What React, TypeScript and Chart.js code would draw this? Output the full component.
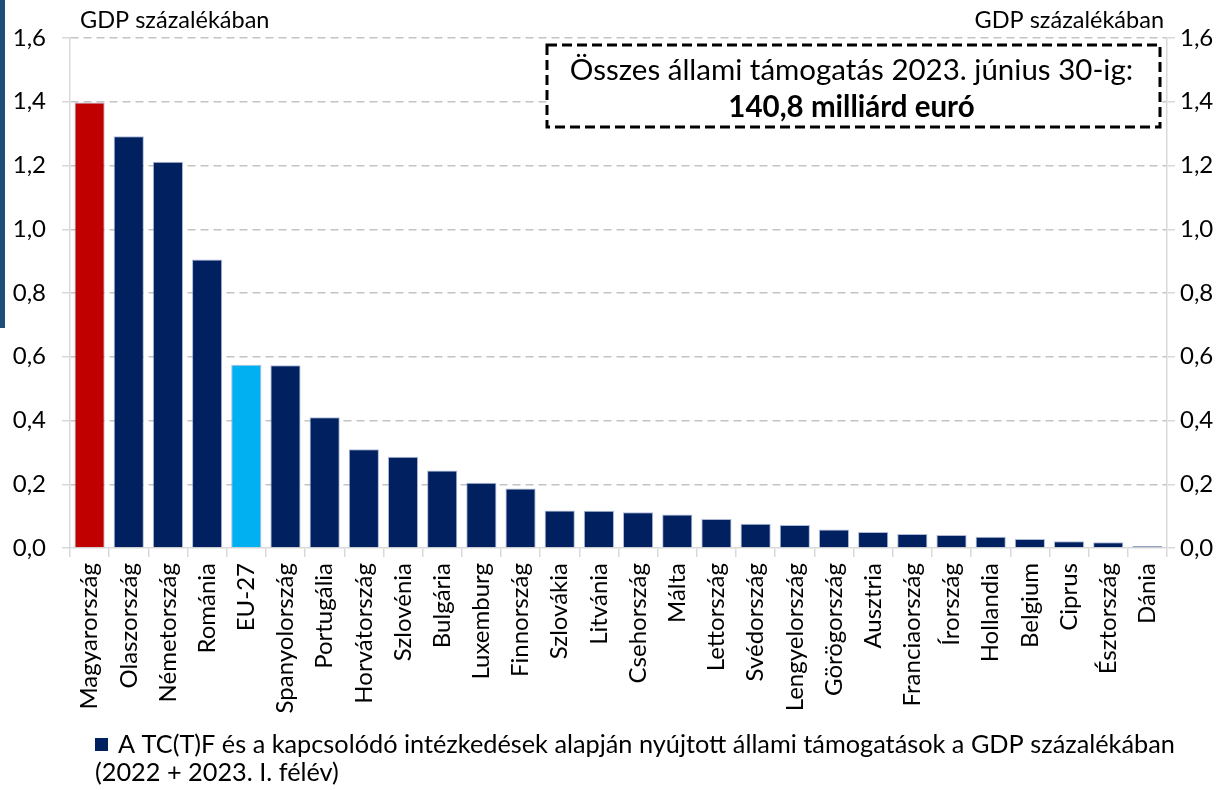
import React, { useEffect, useRef } from "react";
import { Chart, registerables } from "chart.js";

Chart.register(...registerables);

const categories = [
  "Magyarország", "Olaszország", "Németország", "Románia", "EU-27", "Spanyolország",
  "Portugália", "Horvátország", "Szlovénia", "Bulgária", "Luxemburg", "Finnország",
  "Szlovákia", "Litvánia", "Csehország", "Málta", "Lettország", "Svédország",
  "Lengyelország", "Görögország", "Ausztria", "Franciaország", "Írország", "Hollandia",
  "Belgium", "Ciprus", "Észtország", "Dánia",
];
const values = [
  1.398, 1.292, 1.212, 0.905, 0.575, 0.573,
  0.41, 0.31, 0.286, 0.243, 0.205, 0.187,
  0.118, 0.117, 0.112, 0.105, 0.091, 0.076,
  0.072, 0.058, 0.05, 0.044, 0.041, 0.035,
  0.028, 0.021, 0.018, 0.006,
];
const yMin = 0;
const yMax = 1.6;
const yStep = 0.2;
const axisUnit = "GDP százalékában";
const boxLine1 = "Összes állami támogatás 2023. június 30-ig:";
const boxLine2 = "140,8 milliárd euró";
const legendLines = [
  "A TC(T)F és a kapcsolódó intézkedések alapján nyújtott állami támogatások a GDP százalékában",
  "(2022 + 2023. I. félév)",
];
const highlightRed = "Magyarország";
const highlightLight = "EU-27";

const NAVY = "#002060";
const RED = "#C00000";
const LIGHT = "#00B0F0";
const FONT = "Lato, 'Open Sans', sans-serif";
const GRID = "#c4c4c4";
const AXIS = "#d9d9d9";

const fmt = (v: number) => v.toFixed(1).replace(".", ",");

const overlayPlugin = {
  id: "overlay",
  beforeDraw(chart: any) {
    const ctx = chart.ctx;
    ctx.save();
    ctx.fillStyle = "#1F4E79";
    ctx.fillRect(0, 0, 5, 328);
    ctx.restore();
  },
  afterDraw(chart: any) {
    const ctx = chart.ctx as CanvasRenderingContext2D;
    ctx.save();
    ctx.fillStyle = "#000";
    ctx.textBaseline = "alphabetic";
    ctx.font = `23.5px ${FONT}`;
    ctx.textAlign = "left";
    ctx.fillText(axisUnit, 80, 28);
    ctx.textAlign = "right";
    ctx.fillText(axisUnit, 1164, 28);

    // annotation box
    const bx = 547, by = 45, bw = 613, bh = 82;
    ctx.fillStyle = "#fff";
    ctx.fillRect(bx, by, bw, bh);
    ctx.strokeStyle = "#000";
    ctx.lineWidth = 3;
    ctx.setLineDash([10, 5]);
    ctx.strokeRect(bx, by, bw, bh);
    ctx.setLineDash([]);
    ctx.fillStyle = "#000";
    ctx.textAlign = "center";
    ctx.font = `29.5px ${FONT}`;
    ctx.fillText(boxLine1, bx + bw / 2 - 2, 80);
    ctx.font = `bold 29.5px ${FONT}`;
    ctx.fillText(boxLine2, bx + bw / 2 - 2, 117);

    // legend
    ctx.fillStyle = NAVY;
    ctx.fillRect(95, 738, 13, 13);
    ctx.fillStyle = "#000";
    ctx.textAlign = "left";
    ctx.font = `25.3px ${FONT}`;
    ctx.fillText(legendLines[0], 118, 753);
    ctx.fillText(legendLines[1], 95, 781);
    ctx.restore();
  },
};

export default function App() {
  const ref = useRef<HTMLCanvasElement | null>(null);
  useEffect(() => {
    if (!ref.current) return;
    const colors = categories.map((c) =>
      c === highlightRed ? RED : c === highlightLight ? LIGHT : NAVY
    );
    const chart = new Chart(ref.current, {
      type: "bar",
      data: {
        labels: categories,
        datasets: [
          {
            label: legendLines[0],
            data: values,
            backgroundColor: colors,
            borderColor: "rgba(120,140,190,0.6)",
            borderWidth: 1,
            barPercentage: 0.77,
            categoryPercentage: 1,
          },
        ],
      },
      options: {
        responsive: false,
        animation: false,
        layout: { padding: { top: 38, left: 0, right: 0, bottom: 0 } },
        plugins: {
          legend: { display: false },
          tooltip: { enabled: false },
          title: { display: false },
        },
        scales: {
          x: {
            grid: {
              display: true,
              drawOnChartArea: false,
              offset: true,
              tickLength: 9,
              color: AXIS,
              lineWidth: 1.5,
            },
            border: { color: AXIS, width: 1.5 },
            ticks: {
              minRotation: 90,
              maxRotation: 90,
              autoSkip: false,
              padding: 6,
              color: "#000",
              font: { family: FONT, size: 24 },
            },
            afterFit: (s: any) => {
              s.height = 242;
            },
          },
          y: {
            position: "left",
            min: yMin,
            max: yMax,
            grid: {
              color: (c: any) => (c.tick && c.tick.value === 0 ? "rgba(0,0,0,0)" : GRID),
              lineWidth: 1.5,
              tickLength: 8,
              tickColor: AXIS,
              tickBorderDash: [],
            },
            border: { color: AXIS, width: 1.5, dash: [8, 5] },
            ticks: {
              stepSize: yStep,
              padding: 16,
              color: "#000",
              font: { family: FONT, size: 24 },
              callback: (v: any) => fmt(Number(v)),
            },
            afterFit: (s: any) => {
              s.width = 70;
            },
          },
          y2: {
            position: "right",
            min: yMin,
            max: yMax,
            grid: {
              drawOnChartArea: false,
              tickLength: 8,
              color: AXIS,
              lineWidth: 1.5,
            },
            border: { color: AXIS, width: 1.5 },
            ticks: {
              stepSize: yStep,
              padding: 5,
              color: "#000",
              font: { family: FONT, size: 24 },
              callback: (v: any) => fmt(Number(v)),
            },
            afterFit: (s: any) => {
              s.width = 64;
            },
          },
        },
      },
      plugins: [overlayPlugin],
    });
    return () => chart.destroy();
  }, []);
  return (
    <div style={{ position: "absolute", left: 0, top: 0, width: 1231, height: 790 }}>
      <canvas ref={ref} width={1231} height={790} style={{ display: "block" }} />
    </div>
  );
}
